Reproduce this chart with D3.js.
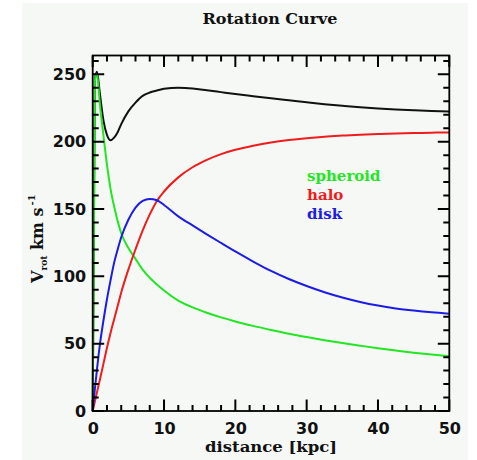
<!DOCTYPE html>
<html>
<head>
<meta charset="utf-8">
<script src="https://cdn.jsdelivr.net/npm/d3@7"></script>
<style>
  body { margin: 0; background: #fff; }
  svg { display: block; }
</style>
</head>
<body>
<div id="chart"></div>
<script>
const distance = [0, 0.3, 0.6, 1, 1.5, 2, 2.5, 3, 3.5, 4, 5, 6, 7, 8, 9, 10, 12, 14, 16, 18, 20,
    22.5, 25, 27.5, 30, 32.5, 35, 37.5, 40, 42.5, 45, 47.5, 50];
const total = [0, 246, 252, 236, 216, 205, 201, 203, 207, 213, 222.5, 229, 234, 236.5, 238, 239.3, 240,
    239.5, 238.2, 236.8, 235.4, 233.8, 232.2, 230.7, 229.2, 227.8, 226.6, 225.5, 224.6, 223.9, 223.3, 222.8, 222.4];
const spheroid = [0, 245, 250, 228, 205, 183, 165, 152, 141, 132, 121, 113, 105, 99, 94, 89.5, 82,
    77, 73, 69.5, 66.5, 63.2, 60.2, 57.4, 54.9, 52.6, 50.5, 48.5, 46.6, 44.9, 43.3, 41.9, 40.6];
const halo = [0, 7, 14, 23, 35, 47, 58, 68, 78, 88, 105, 120, 134, 146, 156, 163, 173.5,
    181, 186.5, 190.8, 194, 197, 199.4, 201.2, 202.6, 203.7, 204.5, 205.2, 205.7, 206.1, 206.4, 206.7, 206.9];
const disk = [0, 16, 31, 49, 67, 83, 97, 110, 120, 129, 142, 151, 156, 157.5, 156.5, 153, 144.5,
    137.8, 131.2, 124.8, 118.5, 111, 104, 98, 92.8, 88.2, 84.3, 81, 78.3, 76.2, 74.6, 73.3, 72.3];

const xMajor = [0, 10, 20, 30, 40, 50];
const xMinor = [0, 2, 4, 6, 8, 10, 12, 14, 16, 18, 20, 22, 24, 26, 28, 30, 32, 34, 36, 38, 40, 42, 44, 46, 48, 50];
const yMajor = [0, 50, 100, 150, 200, 250];
const yMinor = [0, 10, 20, 30, 40, 50, 60, 70, 80, 90, 100, 110, 120, 130, 140, 150, 160, 170, 180, 190, 200,
    210, 220, 230, 240, 250, 260];

const series = [
    { name: "total", values: total, color: "#111111" },
    { name: "spheroid", values: spheroid, color: "#22e622" },
    { name: "halo", values: halo, color: "#f01c1c" },
    { name: "disk", values: disk, color: "#1c1ce6" }
];

const W = 477, H = 460;
const margin = { top: 55.5, right: 27.7, bottom: 49, left: 92.7 };
const width = W - margin.left - margin.right;
const height = H - margin.top - margin.bottom;

const root = d3.select("#chart")
    .append("svg")
    .attr("width", W)
    .attr("height", H);

root.append("rect")
    .attr("x", 22).attr("y", 3)
    .attr("width", 446).attr("height", H - 3)
    .attr("fill", "#f6f8f6");

const svg = root.append("g")
    .attr("transform", `translate(${margin.left}, ${margin.top})`);

const xScale = d3.scaleLinear().domain([0, 50]).range([0, width]);
const yScale = d3.scaleLinear().domain([0, 264]).range([height, 0]);

const line = d3.line()
    .curve(d3.curveMonotoneX)
    .x((d, i) => xScale(distance[i]))
    .y(d => yScale(d));

series.forEach(s => {
    svg.append("path")
        .datum(s.values)
        .attr("fill", "none")
        .attr("stroke", s.color)
        .attr("stroke-width", 2)
        .attr("stroke-linejoin", "round")
        .attr("d", line);
});

// inward ticks on all four sides, drawn as one path
const tickPath = d3.path();
function xTicks(vals, len) {
    vals.forEach(v => {
        const x = xScale(v);
        tickPath.moveTo(x, height); tickPath.lineTo(x, height - len);
        tickPath.moveTo(x, 0); tickPath.lineTo(x, len);
    });
}
function yTicks(vals, len) {
    vals.forEach(v => {
        const y = yScale(v);
        tickPath.moveTo(0, y); tickPath.lineTo(len, y);
        tickPath.moveTo(width, y); tickPath.lineTo(width - len, y);
    });
}
xTicks(xMinor, 6);
xTicks(xMajor, 11.5);
yTicks(yMinor, 6);
yTicks(yMajor, 11.5);

svg.append("path")
    .attr("d", tickPath.toString())
    .attr("fill", "none")
    .attr("stroke", "#000")
    .attr("stroke-width", 2);

const xAxis = svg.append("g")
    .attr("transform", `translate(0, ${height})`)
    .call(d3.axisBottom(xScale).tickValues(xMajor).tickSize(0).tickPadding(11.5));
const yAxis = svg.append("g")
    .call(d3.axisLeft(yScale).tickValues(yMajor).tickSize(0).tickPadding(6.5));

[xAxis, yAxis].forEach(g => {
    g.select(".domain").remove();
    g.selectAll("text")
        .attr("fill", "#111")
        .style("font-family", "DejaVu Sans")
        .style("font-weight", "bold")
        .style("font-size", "16px");
});

svg.append("rect")
    .attr("width", width)
    .attr("height", height)
    .attr("fill", "none")
    .attr("stroke", "#000")
    .attr("stroke-width", 1.8);

const serif = "DejaVu Serif";

root.append("text")
    .attr("x", 270)
    .attr("y", 24)
    .attr("text-anchor", "middle")
    .attr("textLength", 135)
    .attr("lengthAdjust", "spacingAndGlyphs")
    .style("font-family", serif)
    .style("font-weight", "bold")
    .style("font-size", "15.5px")
    .attr("fill", "#111")
    .text("Rotation Curve");

root.append("text")
    .attr("x", 271)
    .attr("y", 452)
    .attr("text-anchor", "middle")
    .attr("textLength", 132)
    .attr("lengthAdjust", "spacingAndGlyphs")
    .style("font-family", serif)
    .style("font-weight", "bold")
    .style("font-size", "15px")
    .attr("fill", "#111")
    .text("distance [kpc]");

const yLabel = root.append("text")
    .attr("transform", "translate(43, 283) rotate(-90)")
    .attr("x", 0)
    .attr("y", 0)
    .style("font-family", serif)
    .style("font-weight", "bold")
    .style("font-size", "16px")
    .attr("fill", "#111");
yLabel.append("tspan").text("V");
yLabel.append("tspan").attr("dy", 4).style("font-size", "9px").text("rot");
yLabel.append("tspan").attr("dy", -4).text(" km  s");
yLabel.append("tspan").attr("dx", 2).attr("dy", -8).style("font-size", "10px").text("-1");

const legend = svg.append("g")
    .attr("transform", `translate(${xScale(30.05)}, ${yScale(170.5)})`);

legend.selectAll("text")
    .data(series.slice(1))
    .enter()
    .append("text")
    .attr("x", 0)
    .attr("y", (d, i) => i * 19)
    .attr("fill", d => d.color)
    .style("font-family", serif)
    .style("font-weight", "bold")
    .style("font-size", "15px")
    .text(d => d.name);
</script>
</body>
</html>
